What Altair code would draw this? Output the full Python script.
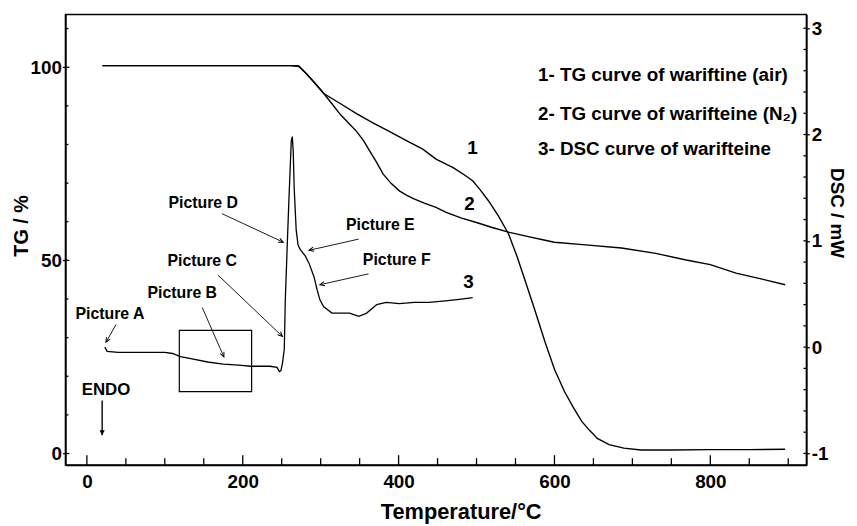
import math
import altair as alt
import pandas as pd

# ---------------- data ----------------
# Curve 1: TG of warfarin in air
T_AIR = [20, 60, 100, 150, 200, 240, 262, 272, 283, 294, 304, 325, 346, 367, 388, 410, 431, 448,
         470, 486, 495, 505, 515, 528, 541, 552, 562, 575, 588, 600, 613, 624, 635, 645, 655, 670,
         689, 711, 750, 800, 850, 896]
TG_AIR = [100.4, 100.4, 100.4, 100.4, 100.4, 100.4, 100.4, 100.3, 98.0, 95.6, 93.2, 90.6, 88.0,
          85.6, 83.4, 81.0, 78.8, 76.2, 74.0, 71.9, 70.6, 68.2, 65.5, 61.5, 56.9, 51.0, 45.0, 37.0,
          28.8, 21.8, 16.0, 12.0, 8.3, 6.0, 3.9, 2.3, 1.4, 0.9, 0.9, 1.0, 1.0, 1.1]

# Curve 2: TG in N2
T_N2 = [20, 100, 200, 262, 272, 281, 289, 297, 304, 315, 325, 336, 346, 355, 363, 372, 380, 390,
        401, 410, 419, 433, 448, 461, 480, 503, 520, 541, 565, 588, 600, 640, 686, 730, 769, 800,
        833, 865, 896]
TG_N2 = [100.4, 100.4, 100.4, 100.4, 100.2, 98.5, 96.7, 94.8, 93.2, 90.4, 87.8, 85.5, 83.4, 81.0,
         78.3, 75.3, 72.4, 70.0, 68.0, 66.9, 66.0, 64.8, 63.7, 62.4, 61.0, 59.6, 58.5, 57.3, 56.2,
         55.2, 54.7, 54.0, 53.2, 51.8, 50.1, 48.9, 46.7, 45.2, 43.7]

# Curve 3: DSC
T_DSC = [23, 26, 40, 60, 80, 100, 110, 120, 135, 155, 175, 195, 210, 223, 235, 244, 247, 249, 251,
         253.3, 254.6, 257.2, 259.7, 262.3, 263.6, 264.8, 266, 268.6, 271, 273.6, 280, 285, 291.5,
         295.4, 299, 304, 314.5, 325, 337, 349, 359, 372, 384, 401, 420, 439, 460, 478, 495]
DSC = [0.00, -0.04, -0.05, -0.05, -0.05, -0.05, -0.06, -0.09, -0.11, -0.14, -0.16, -0.17, -0.18,
       -0.18, -0.18, -0.19, -0.23, -0.22, -0.15, -0.02, 0.44, 0.98, 1.47, 1.94, 1.98, 1.84, 1.50,
       1.10, 0.96, 0.92, 0.86, 0.79, 0.66, 0.54, 0.445, 0.38, 0.32, 0.32, 0.32, 0.29, 0.32, 0.40,
       0.42, 0.41, 0.42, 0.42, 0.435, 0.45, 0.465]

# annotations (in T / TG units)
ANN_LABELS = ["Picture A", "Picture B", "Picture C", "Picture D", "Picture E", "Picture F"]
ANN_TX = [29.6, 122.4, 148.0, 149.3, 376.6, 397.6]
ANN_TY = [36.0, 41.6, 49.8, 64.9, 59.1, 50.1]
ARR_X1 = [37.4, 148.0, 168.2, 173.3, 348.7, 361.4]
ARR_Y1 = [33.4, 37.8, 46.2, 62.1, 55.5, 46.5]
ARR_X2 = [24.5, 175.8, 251.0, 252.0, 285.0, 299.0]
ARR_Y2 = [28.8, 25.0, 30.3, 54.7, 52.6, 43.7]

ENDO_LABEL = ["ENDO"]
ENDO_TX = [24.5]
ENDO_TY = [16.5]
ENDO_X1 = [19.6]
ENDO_Y1 = [13.7]
ENDO_Y2 = [4.7]

LEG_TEXT = ["1- TG curve of wariftine (air)", "2- TG curve of warifteine (N\u2082)",
            "3- DSC curve of warifteine"]
LEG_T = [578.8, 578.8, 578.8]
LEG_TG = [98.0, 87.8, 78.8]

NUM_TEXT = ["1", "2", "3"]
NUM_T = [494.9, 491.0, 489.8]
NUM_TG = [79.0, 64.7, 44.4]

BOX_T = [118.6]
BOX_T2 = [211.4]
BOX_TG = [16.0]
BOX_TG2 = [31.9]

X_TICKS = [0, 200, 400, 600, 800]
X_MINOR = [50, 100, 150, 250, 300, 350, 450, 500, 550, 650, 700, 750, 850, 900]
TG_TICKS = [0, 50, 100]
TG_MINOR = [10, 20, 30, 40, 60, 70, 80, 90, 110]
DSC_TICKS = [-1, 0, 1, 2, 3]
DSC_MINOR = [-0.8, -0.6, -0.4, -0.2, 0.2, 0.4, 0.6, 0.8, 1.2, 1.4, 1.6, 1.8, 2.2, 2.4, 2.6, 2.8]

# ---------------- layout ----------------
FONT = "Liberation Sans"
W, H = 748, 455
X_DOM = [-27.5, 923.3]
TG_DOM = [-3.0, 113.67]
DSC_DOM = [-1.11, 3.13]
PX_T = W / (X_DOM[1] - X_DOM[0])
PX_TG = H / (TG_DOM[1] - TG_DOM[0])

xs = alt.Scale(domain=X_DOM, nice=False, zero=False)
tgs = alt.Scale(domain=TG_DOM, nice=False, zero=False)
dscs = alt.Scale(domain=DSC_DOM, nice=False, zero=False)

x_axis = alt.Axis(values=X_TICKS, title="Temperature/\u00b0C", tickSize=0, labelPadding=8,
                  titleX=399, titleY=47, titleBaseline="middle", titleAlign="center",
                  titleFontSize=22, labelFlush=False)
tg_axis = alt.Axis(values=TG_TICKS, title="TG / %", orient="left", tickSize=3, labelPadding=1,
                   titleAngle=270, titleX=-44, titleY=213, titleAlign="center",
                   titleBaseline="middle", titleFontSize=20, labelFlush=False)
dsc_axis = alt.Axis(values=DSC_TICKS, title="DSC / mW", orient="right", tickSize=3, labelPadding=2,
                    titleAngle=90, titleX=30, titleY=200, titleAlign="center",
                    titleBaseline="middle", titleFontSize=19, labelExpr="'' + datum.value",
                    labelFlush=False)


def X(f="T"):
    return alt.X(f + ":Q", scale=xs, axis=x_axis)


def YTG(f="TG"):
    return alt.Y(f + ":Q", scale=tgs, axis=tg_axis)


def YD(f="DSC"):
    return alt.Y(f + ":Q", scale=dscs, axis=dsc_axis)


def arrow_angle(x1, y1, x2, y2):
    dx = (x2 - x1) * PX_T
    dy = -(y2 - y1) * PX_TG
    return math.degrees(math.atan2(dx, -dy)) % 360


ARROW = "M-0.45,1L0,0L0.45,1"

# ---------------- TG layer ----------------
air = alt.Chart(pd.DataFrame({"T": T_AIR, "TG": TG_AIR})).mark_line(
    color="black", strokeWidth=1.4).encode(x=X(), y=YTG())
n2 = alt.Chart(pd.DataFrame({"T": T_N2, "TG": TG_N2})).mark_line(
    color="black", strokeWidth=1.4).encode(x=X(), y=YTG())

ann_df = pd.DataFrame({"label": ANN_LABELS, "T": ANN_TX, "TG": ANN_TY})
ann_text = alt.Chart(ann_df).mark_text(font=FONT, fontWeight="bold", fontSize=16, color="black",
                                       align="center", baseline="middle").encode(
    x=X(), y=YTG(), text="label:N")

arr_df = pd.DataFrame({"T": ARR_X1, "TG": ARR_Y1, "T2": ARR_X2, "TG2": ARR_Y2})
arr_df["ang"] = [arrow_angle(a, b, c, d) for a, b, c, d in zip(ARR_X1, ARR_Y1, ARR_X2, ARR_Y2)]
arr_line = alt.Chart(arr_df).mark_rule(color="black", strokeWidth=0.9).encode(
    x=X(), y=YTG(), x2="T2:Q", y2="TG2:Q")
arr_head = alt.Chart(arr_df).mark_point(shape=ARROW, filled=False, color="black", strokeWidth=1,
                                        size=90, opacity=1).encode(
    x=X("T2"), y=YTG("TG2"), angle=alt.Angle("ang:Q", scale=None))

endo_df = pd.DataFrame({"label": ENDO_LABEL, "T": ENDO_TX, "TG": ENDO_TY})
endo_text = alt.Chart(endo_df).mark_text(font=FONT, fontWeight="bold", fontSize=17, color="black",
                                         align="center", baseline="middle").encode(
    x=X(), y=YTG(), text="label:N")
endo_arr_df = pd.DataFrame({"T": ENDO_X1, "TG": ENDO_Y1, "TG2": ENDO_Y2})
endo_arr_df["ang"] = [180.0]
endo_line = alt.Chart(endo_arr_df).mark_rule(color="black", strokeWidth=1.4).encode(
    x=X(), y=YTG(), y2="TG2:Q")
endo_head = alt.Chart(endo_arr_df).mark_point(shape="M-0.5,1L0,0L0.5,1Z", filled=True,
                                              color="black", size=110, opacity=1).encode(
    x=X(), y=YTG("TG2"), angle=alt.Angle("ang:Q", scale=None))

leg = alt.Chart(pd.DataFrame({"label": LEG_TEXT, "T": LEG_T, "TG": LEG_TG})).mark_text(
    font=FONT, fontWeight="bold", fontSize=19, color="black", align="left", baseline="middle"
).encode(x=X(), y=YTG(), text="label:N")

nums = alt.Chart(pd.DataFrame({"label": NUM_TEXT, "T": NUM_T, "TG": NUM_TG})).mark_text(
    font=FONT, fontWeight="bold", fontSize=19, color="black", align="center", baseline="middle"
).encode(x=X(), y=YTG(), text="label:N")

box = alt.Chart(pd.DataFrame({"T": BOX_T, "T2": BOX_T2, "TG": BOX_TG, "TG2": BOX_TG2})).mark_rect(
    fillOpacity=0, stroke="black", strokeWidth=1.2).encode(
    x=X(), x2="T2:Q", y=YTG(), y2="TG2:Q")

xt_major = alt.Chart(pd.DataFrame({"T": X_TICKS})).mark_rule(color="black", strokeWidth=1.3).encode(
    x=X(), y=alt.value(H), y2=alt.value(H - 10))
xt_minor = alt.Chart(pd.DataFrame({"T": X_MINOR})).mark_rule(color="black", strokeWidth=1.3).encode(
    x=X(), y=alt.value(H), y2=alt.value(H - 7))
yt_major = alt.Chart(pd.DataFrame({"TG": TG_TICKS})).mark_rule(color="black", strokeWidth=1.3).encode(
    y=YTG(), x=alt.value(0), x2=alt.value(4))
yt_minor = alt.Chart(pd.DataFrame({"TG": TG_MINOR})).mark_rule(color="black", strokeWidth=1.3).encode(
    y=YTG(), x=alt.value(0), x2=alt.value(3))

tg_layer = alt.layer(air, n2, box, arr_line, arr_head, ann_text, endo_line, endo_head, endo_text,
                     leg, nums, xt_major, xt_minor, yt_major, yt_minor)

# ---------------- DSC layer ----------------
dsc_line = alt.Chart(pd.DataFrame({"T": T_DSC, "DSC": DSC})).mark_line(
    color="black", strokeWidth=1.3).encode(x=X(), y=YD())
rt_major = alt.Chart(pd.DataFrame({"DSC": DSC_TICKS})).mark_rule(color="black", strokeWidth=1.3).encode(
    y=YD(), x=alt.value(W), x2=alt.value(W - 3))
rt_minor = alt.Chart(pd.DataFrame({"DSC": DSC_MINOR})).mark_rule(color="black", strokeWidth=1.3).encode(
    y=YD(), x=alt.value(W), x2=alt.value(W - 3))
dsc_layer = alt.layer(dsc_line, rt_major, rt_minor)

chart = alt.layer(tg_layer, dsc_layer).resolve_scale(y="independent").properties(
    width=W, height=H, autosize="none",
    padding={"left": 58, "top": 4, "right": 43, "bottom": 59},
    background="white",
).configure_view(stroke="black", strokeWidth=1.5).configure_axis(
    grid=False, domainColor="black", domainWidth=1.5, tickColor="black", tickWidth=1.3,
    labelFont=FONT, labelFontWeight="bold", labelFontSize=19, labelColor="black",
    titleFont=FONT, titleFontWeight="bold", titleColor="black",
)

chart.save("out.html", embed_options={"renderer": "svg", "actions": False})
